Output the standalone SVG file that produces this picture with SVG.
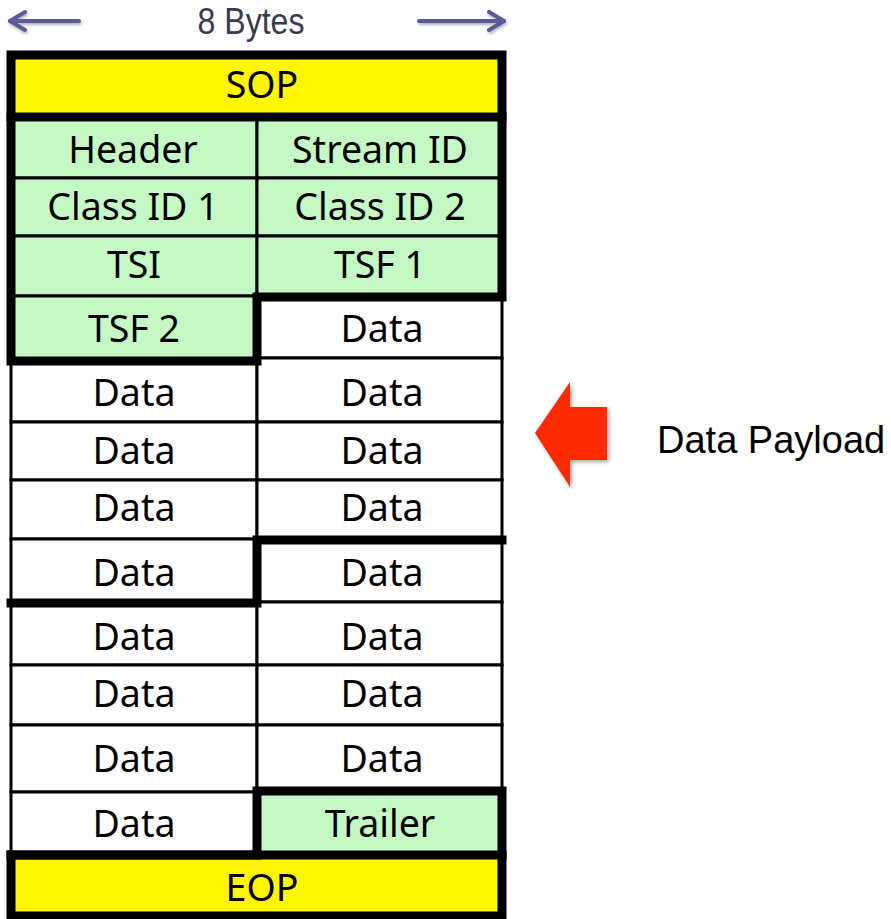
<svg xmlns="http://www.w3.org/2000/svg" width="891" height="919" viewBox="0 0 891 919">
<defs>
<style>
.c{stroke:#000;stroke-width:3}
.g{fill:#c6f8c6}
.w{fill:#fff}
.y{fill:#fff600}
.t{font-family:"Noto Sans","Open Sans",sans-serif;font-size:37.5px;fill:#000;text-anchor:middle}
.thick{fill:none;stroke:#000;stroke-width:9;stroke-linejoin:miter;stroke-linecap:square}
.ba{stroke:#5a5c98;stroke-width:4;fill:none;stroke-linecap:round}
</style>
<marker id="ah" markerWidth="20" markerHeight="24" refX="17" refY="11" orient="auto" markerUnits="userSpaceOnUse">
<path d="M2,2 L17,11 L2,20" fill="none" stroke="#5a5c98" stroke-width="4" stroke-linejoin="round" stroke-linecap="round"/>
</marker>
<filter id="sh" x="-20%" y="-20%" width="150%" height="150%">
<feDropShadow dx="2" dy="2" stdDeviation="2" flood-color="#000" flood-opacity="0.35"/>
</filter>
<filter id="sh2" filterUnits="userSpaceOnUse" x="0" y="0" width="520" height="45">
<feDropShadow dx="1" dy="2" stdDeviation="1.5" flood-color="#000" flood-opacity="0.3"/>
</filter>
</defs>
<rect width="891" height="919" fill="#fff"/>

<g id="sop"><rect class="y" x="11" y="55" width="491" height="62"/><text class="t" x="262" y="98">SOP</text></g>

<g id="header"><rect class="c g" x="11" y="117" width="246" height="61"/><text class="t" x="133" y="163">Header</text></g>
<g id="stream-id"><rect class="c g" x="257" y="117" width="245" height="61"/><text class="t" x="380" y="163">Stream ID</text></g>
<g id="class-id-1"><rect class="c g" x="11" y="178" width="246" height="58"/><text class="t" x="133" y="220">Class ID 1</text></g>
<g id="class-id-2"><rect class="c g" x="257" y="178" width="245" height="58"/><text class="t" x="380" y="220">Class ID 2</text></g>
<g id="tsi"><rect class="c g" x="11" y="236" width="246" height="60"/><text class="t" x="134" y="278">TSI</text></g>
<g id="tsf1"><rect class="c g" x="257" y="236" width="245" height="61"/><text class="t" x="380" y="278">TSF 1</text></g>
<g id="tsf2"><rect class="c g" x="11" y="296" width="246" height="65"/><text class="t" x="134" y="342">TSF 2</text></g>
<g id="data-r1"><rect class="c w" x="257" y="297" width="245" height="61"/><text class="t" x="382" y="342">Data</text></g>

<g id="data-l2"><rect class="c w" x="11" y="361" width="246" height="61"/><text class="t" x="134" y="406">Data</text></g>
<g id="data-r2"><rect class="c w" x="257" y="358" width="245" height="64"/><text class="t" x="382" y="406">Data</text></g>
<g id="data-l3"><rect class="c w" x="11" y="422" width="246" height="58"/><text class="t" x="134" y="464">Data</text></g>
<g id="data-r3"><rect class="c w" x="257" y="422" width="245" height="58"/><text class="t" x="382" y="464">Data</text></g>
<g id="data-l4"><rect class="c w" x="11" y="480" width="246" height="59"/><text class="t" x="134" y="521">Data</text></g>
<g id="data-r4"><rect class="c w" x="257" y="480" width="245" height="60"/><text class="t" x="382" y="521">Data</text></g>
<g id="data-l5"><rect class="c w" x="11" y="539" width="246" height="64"/><text class="t" x="134" y="586">Data</text></g>
<g id="data-r5"><rect class="c w" x="257" y="540" width="245" height="62"/><text class="t" x="382" y="586">Data</text></g>
<g id="data-l6"><rect class="c w" x="11" y="603" width="246" height="62"/><text class="t" x="134" y="650">Data</text></g>
<g id="data-r6"><rect class="c w" x="257" y="602" width="245" height="63"/><text class="t" x="382" y="650">Data</text></g>
<g id="data-l7"><rect class="c w" x="11" y="665" width="246" height="60"/><text class="t" x="134" y="707">Data</text></g>
<g id="data-r7"><rect class="c w" x="257" y="665" width="245" height="60"/><text class="t" x="382" y="707">Data</text></g>
<g id="data-l8"><rect class="c w" x="11" y="725" width="246" height="67"/><text class="t" x="134" y="772">Data</text></g>
<g id="data-r8"><rect class="c w" x="257" y="725" width="245" height="66"/><text class="t" x="382" y="772">Data</text></g>
<g id="data-l9"><rect class="c w" x="11" y="792" width="246" height="63"/><text class="t" x="134" y="837">Data</text></g>
<g id="trailer"><rect class="c g" x="257" y="791" width="245" height="64"/><text class="t" x="380" y="837">Trailer</text></g>

<g id="eop"><rect class="y" x="11" y="855" width="491" height="61"/><text class="t" x="262" y="901">EOP</text></g>

<g id="borders">
<path class="thick" d="M11,55 H502 V297 H257 V361 H11 Z"/>
<path class="thick" d="M11,117 H502"/>
<path class="thick" d="M11,603 H257 V540 H502"/>
<path class="thick" d="M257,855 V791 H502 V916 H11 V855 Z"/>
<path class="thick" d="M11,855 H502"/>
</g>

<g id="connectors">
<g filter="url(#sh2)">
<path class="ba" d="M79,21 H10" marker-end="url(#ah)"/>
<path class="ba" d="M419,21 H504" marker-end="url(#ah)"/>
</g>
<polygon points="535,433 570,382 570,407 607,407 607,460 570,460 570,487" fill="#ff2a00" filter="url(#sh)"/>
</g>

<g id="labels">
<text x="251" y="34" font-family="Liberation Sans, Arial, sans-serif" font-size="36" fill="#3a3a50" text-anchor="middle" textLength="107" lengthAdjust="spacingAndGlyphs">8 Bytes</text>
<text x="657" y="453" font-family="Liberation Sans, Arial, sans-serif" font-size="38" fill="#000">Data Payload</text>
</g>
</svg>
